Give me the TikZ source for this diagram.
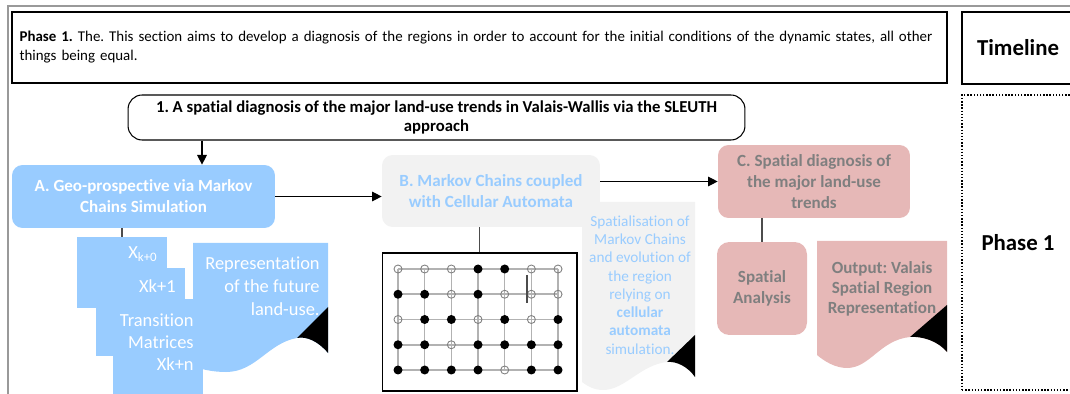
\documentclass[tikz,border=0pt]{standalone}
\usepackage{fontspec}
\setmainfont{Carlito}[Ligatures=NoCommon]
\frenchspacing
\usetikzlibrary{arrows.meta}
\definecolor{skyblue}{HTML}{99CCFF}
\definecolor{palegray}{HTML}{F2F2F2}
\definecolor{rosepink}{HTML}{E6B8B7}
\definecolor{textgray}{HTML}{7F7F7F}
\begin{document}
\begin{tikzpicture}[x=0.02cm,y=-0.02cm,
  stage/.style={rectangle, rounded corners=6pt, align=center, inner sep=1pt, font=\fontsize{9.7}{11.9}\selectfont\bfseries},
  tile/.style={rectangle, fill=skyblue, inner sep=0pt, outer sep=0pt},
  lbl/.style={inner sep=0pt, text=white, font=\fontsize{10.5}{12.5}\selectfont},
  arr/.style={-{Triangle[length=5.5pt,width=5.5pt]}, line width=0.6pt},
  link/.style={draw=black!70, line width=0.6pt}]
\useasboundingbox (0,0) rectangle (1070,394);
\draw[gray!80, line width=1pt] (8,6) rectangle (1090,410);
\node[draw, line width=0.8pt, rectangle, minimum width=18.7cm, minimum height=1.42cm, text width=18.4cm, align=left, font=\fontsize{8.5}{10.8}\selectfont] (intro) at (479.5,47.5) {\textbf{Phase 1.} The. This section aims to develop a diagnosis of the regions in order to account for the initial conditions of the dynamic states, all other\\things being equal.};
\node[draw, line width=0.8pt, rectangle, minimum width=2.24cm, minimum height=1.44cm, font=\fontsize{13}{15}\selectfont\bfseries] (timeline) at (1018,48) {Timeline};
\node[draw, line width=0.8pt, densely dotted, rectangle, minimum width=2.24cm, minimum height=5.9cm, font=\fontsize{13}{15}\selectfont\bfseries] (phase) at (1018,242.5) {Phase 1};
\node[draw, stage, line width=0.6pt, rounded corners=8pt, minimum width=12.34cm, minimum height=0.9cm, font=\fontsize{9.5}{11.3}\selectfont\bfseries] (diag) at (436.5,117.5) {1. A spatial diagnosis of the major land-use trends in Valais-Wallis via the SLEUTH\\approach};
\fill[skyblue] (193,243) -- (328,243) -- (328,353) .. controls (318,341) and (306,336) .. (297,338) .. controls (268,343) and (256,372) .. (226,372) .. controls (212,372) and (200,369) .. (193,366) -- cycle;
\fill[black] (328,307) -- (297,338) .. controls (306,336) and (318,341) .. (328,353) -- cycle;
\fill[palegray] (582,202) -- (695,202) -- (695,377) .. controls (688,367) and (677,361) .. (667,362) .. controls (640,365) and (625,390) .. (603,390) .. controls (594,390) and (587,386) .. (582,382) -- cycle;
\fill[black] (695,335) -- (667,362) .. controls (677,361) and (688,367) .. (695,377) -- cycle;
\fill[rosepink] (817,241) -- (947,241) -- (947,352) .. controls (938,341) and (922,336) .. (910,337) .. controls (880,340) and (870,368) .. (847,368) .. controls (835,368) and (824,361) .. (817,355) -- cycle;
\fill[black] (947,305) -- (910,337) .. controls (922,336) and (938,341) .. (947,352) -- cycle;
\node[stage, fill=skyblue, text=white, minimum width=5.26cm, minimum height=1.26cm] (geo) at (143.5,196.5) {A. Geo-prospective via Markov\\Chains Simulation};
\node[stage, fill=palegray, text=skyblue, minimum width=4.36cm, minimum height=1.44cm] (mcca) at (491,191) {B. Markov Chains coupled\\with Cellular Automata};
\node[stage, fill=rosepink, text=textgray, minimum width=3.84cm, minimum height=1.46cm] (spd) at (814,181.5) {C. Spatial diagnosis of\\the major land-use\\trends};
\node[stage, fill=rosepink, text=textgray, rounded corners=7pt, minimum width=1.8cm, minimum height=1.86cm] (spana) at (762,288.5) {Spatial\\Analysis};
\node[tile, minimum width=1.8cm, minimum height=1.42cm] (xa) at (122,272.5) {};
\node[tile, minimum width=1.78cm, minimum height=1.76cm] (xb) at (140.5,312) {};
\node[tile, minimum width=1.8cm, minimum height=2.02cm] (xc) at (158,349.5) {};
\node[lbl, anchor=base east] (xalbl) at (158,259) {X\textsubscript{k+0}};
\node[lbl, anchor=base east] (xblbl) at (176,293) {Xk+1};
\node[lbl, anchor=east, align=right] (xclbl) at (194,342) {Transition\\Matrices\\Xk+n};
\node[lbl, anchor=east, align=right, font=\fontsize{10.5}{13}\selectfont] (futlbl) at (320,286) {Representation\\of the future\\land-use.};
\node[inner sep=0pt, align=center, text=skyblue, font=\fontsize{8.7}{10.4}\selectfont] (spatlbl) at (640,285) {Spatialisation of\\Markov Chains\\and evolution of\\the region\\relying on\\\textbf{cellular}\\\textbf{automata}\\simulation.};
\node[inner sep=0pt, align=center, text=textgray, font=\fontsize{9.7}{11.5}\selectfont\bfseries] (outlbl) at (882,289) {Output: Valais\\Spatial Region\\Representation};
\node[draw, line width=0.6pt, rectangle, minimum width=3.9cm, minimum height=2.76cm] (grid) at (479.5,322) {};
\foreach \k in {0,...,4} \draw[gray!60, line width=0.9pt] (398,269+25.25*\k) -- (558,269+25.25*\k);
\foreach \k in {0,...,6} \draw[gray!60, line width=0.9pt] (398+26.67*\k,269) -- (398+26.67*\k,370);
\foreach \row [count=\j from 0] in {{0,0,0,1,1,0,0},{1,1,0,1,0,0,0},{0,1,1,0,1,0,1},{1,1,0,1,1,1,1},{1,1,1,1,0,1,1}} {
  \foreach \v [count=\i from 0] in \row {
    \ifnum\v=1
      \fill (398+26.67*\i,269+25.25*\j) circle[radius=0.09cm];
    \else
      \draw[gray, line width=0.5pt] (398+26.67*\i,269+25.25*\j) circle[radius=0.08cm];
    \fi
  }
}
\draw[black!70, line width=0.6pt] (527,275) -- (527,303);
\coordinate (apin) at (202,0);
\draw[arr] (diag.south -| apin) -- (geo.north -| apin);
\draw[arr] (geo.east) -- (geo.east -| mcca.west);
\draw[arr] (spd.west -| mcca.east) -- (spd.west);
\draw[link] (geo.south -| xa.north) -- (xa.north);
\draw[link] (mcca.south -| grid.north) -- (grid.north);
\draw[link] (spd.south -| spana.north) -- (spana.north);
\end{tikzpicture}
\end{document}
